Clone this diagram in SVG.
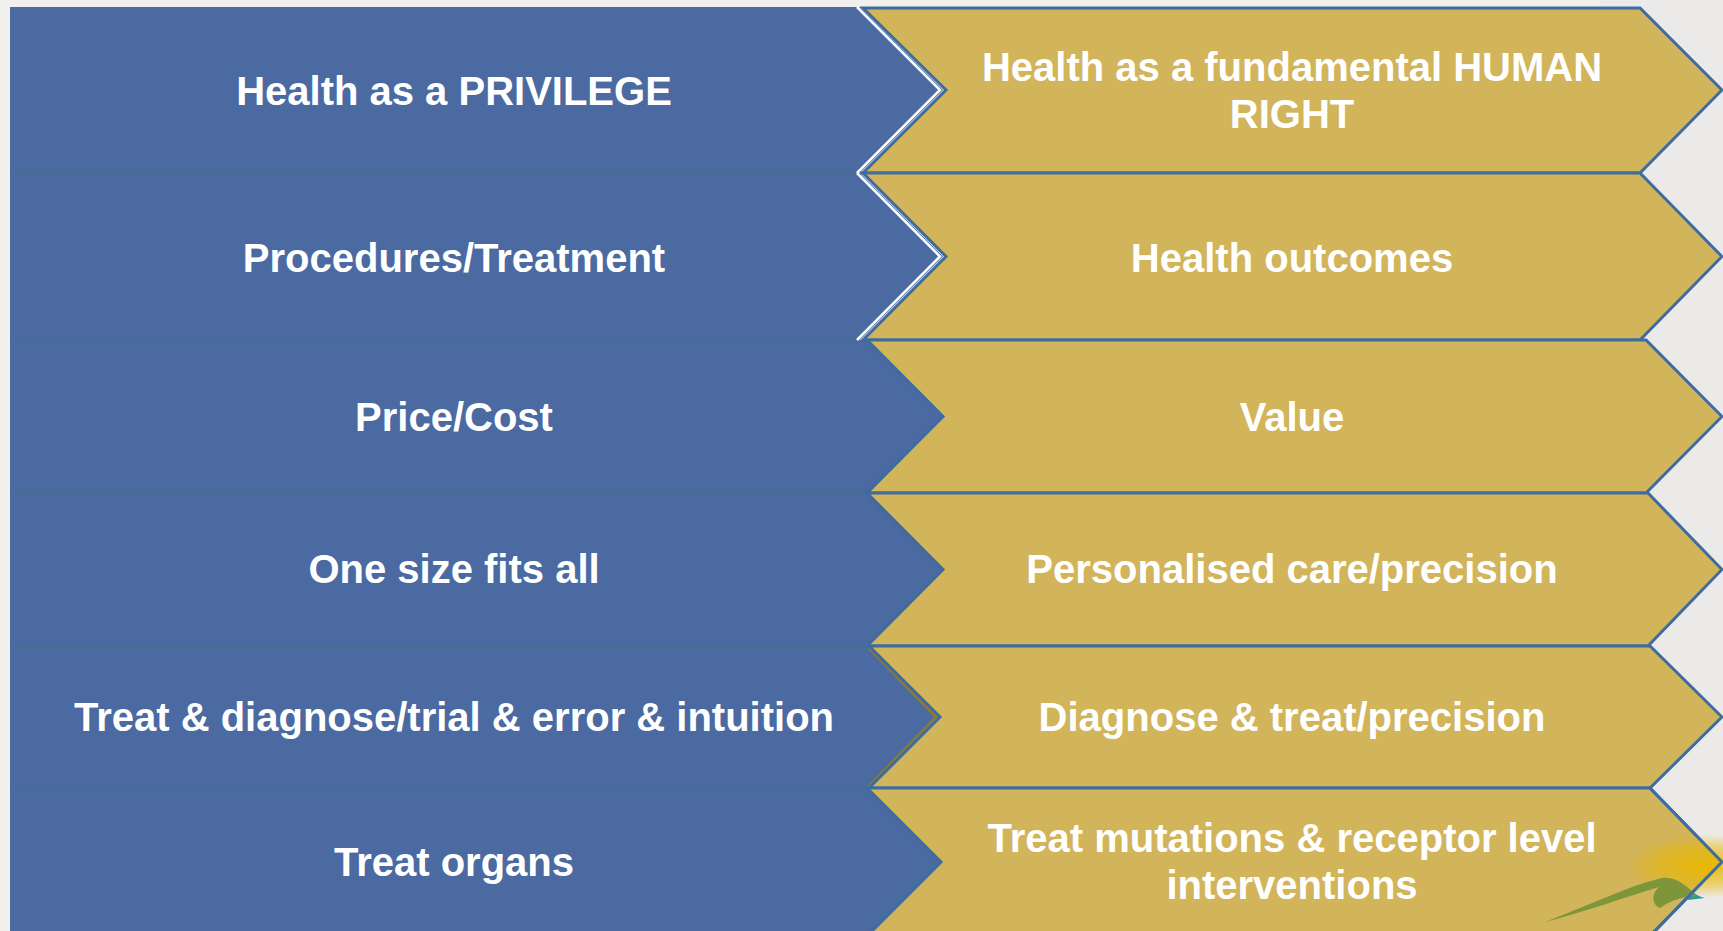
<svg xmlns="http://www.w3.org/2000/svg" width="1723" height="931" viewBox="0 0 1723 931">
<defs>
<style>
.bg{fill:#f2f0ec}
.blue{fill:#4a6aa1}
.sep{stroke:#46708f;stroke-width:1.5;fill:none}
.gold{fill:#d2b45b;stroke:#3e6c9e;stroke-width:3;stroke-linejoin:miter}
.edge{fill:none;stroke:#3e6c9e;stroke-width:3}
.hl{fill:none;stroke:#ffffff;stroke-width:2.5}
.sh{fill:none;stroke:#8a7a36;stroke-width:3}
.t{font-family:"Liberation Sans",Arial,sans-serif;font-weight:bold;font-size:40px;fill:#ffffff;text-anchor:middle}
</style>
<radialGradient id="glow" cx="0.5" cy="0.5" r="0.5">
<stop offset="0" stop-color="#e9b800" stop-opacity="0.95"/>
<stop offset="0.6" stop-color="#e9b800" stop-opacity="0.5"/>
<stop offset="1" stop-color="#e9b800" stop-opacity="0"/>
</radialGradient>
</defs>
<rect class="bg" x="0" y="0" width="1723" height="931"/>
<rect x="1600" y="0" width="123" height="931" fill="#ebeae8"/>

<g id="row1-left">
<polygon class="blue" points="10,7 860,7 943,90 860,173 10,173"/>
<text class="t" x="454" y="105">Health as a PRIVILEGE</text>
</g>
<g id="row2-left">
<polygon class="blue" points="10,173 860,173 943,256.5 860,340 10,340"/>
<text class="t" x="454" y="272">Procedures/Treatment</text>
</g>
<g id="row3-left">
<polygon class="blue" points="10,340 867,340 943,416.5 867,493 10,493"/>
<text class="t" x="454" y="431">Price/Cost</text>
</g>
<g id="row4-left">
<polygon class="blue" points="10,493 867,493 943,569.5 867,646 10,646"/>
<text class="t" x="454" y="583">One size fits all</text>
</g>
<g id="row5-left">
<polygon class="blue" points="10,646 867,646 938,717 867,788 10,788"/>
<text class="t" x="454" y="731">Treat &amp; diagnose/trial &amp; error &amp; intuition</text>
</g>
<g id="row6-left">
<polygon class="blue" points="10,788 867,788 941,862 867,936 10,936"/>
<text class="t" x="454" y="876">Treat organs</text>
</g>

<g id="connectors">
<line class="sep" x1="10" y1="173" x2="860" y2="173"/>
<line class="sep" x1="10" y1="340" x2="860" y2="340"/>
<line class="sep" x1="10" y1="493" x2="867" y2="493"/>
<line class="sep" x1="10" y1="646" x2="867" y2="646"/>
<line class="sep" x1="10" y1="788" x2="867" y2="788"/>
<polyline class="hl" points="857,7 940,90 857,173"/>
<polyline class="hl" points="857,173 940,256.5 857,340"/>
<polyline class="sh" points="869,648 936,717 869,786"/>
</g>

<g id="row1-right">
<polygon class="gold" points="863,8 1640,8 1722,90 1640,173 863,173 946,90"/>
<text class="t" x="1292" y="81">Health as a fundamental HUMAN</text>
<text class="t" x="1292" y="128">RIGHT</text>
</g>
<g id="row2-right">
<polygon class="gold" points="863,173 1640,173 1722,256.5 1640,340 863,340 946,256.5"/>
<text class="t" x="1292" y="272">Health outcomes</text>
</g>
<g id="row3-right">
<polygon class="gold" points="867,340 1646,340 1722,416.5 1646,493 867,493 943,416.5"/>
<text class="t" x="1292" y="431">Value</text>
</g>
<g id="row4-right">
<polygon class="gold" points="867,493 1648,493 1722,569.5 1648,646 867,646 943,569.5"/>
<text class="t" x="1292" y="583">Personalised care/precision</text>
</g>
<g id="row5-right">
<polygon class="gold" points="869,646 1650,646 1722,717 1650,788 869,788 940,717"/>
<text class="t" x="1292" y="731">Diagnose &amp; treat/precision</text>
</g>
<g id="row6-right">
<polygon class="gold" points="867,788 1650,788 1722,862 1650,936 867,936 941,862"/>
<text class="t" x="1292" y="852">Treat mutations &amp; receptor level</text>
<text class="t" x="1292" y="899">interventions</text>
</g>

<g id="logo">
<ellipse cx="1705" cy="866" rx="80" ry="32" fill="url(#glow)"/>
<path d="M1690,890 C1695,894 1700,897 1705,898 L1688,900 Z" fill="#2a9a9a"/>
<path d="M1545,922 C1590,905 1628,886 1662,878 C1675,876 1688,886 1696,896 C1685,897 1672,899 1660,908 C1652,905 1651,894 1659,887 C1625,897 1588,911 1545,922 Z" fill="#7d963a"/>
<polyline class="edge" points="1650,788 1722,862 1650,936"/>
</g>
</svg>
